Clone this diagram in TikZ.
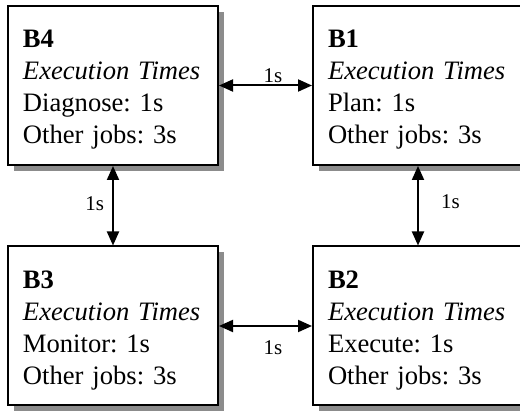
\documentclass[tikz,border=0pt]{standalone}
\usepackage{fontspec}
\setmainfont{Liberation Serif}
\frenchspacing
\usetikzlibrary{arrows.meta,shadows}
\tikzset{blk/.style={draw,line width=1pt,fill=white,rectangle,minimum width=105pt,
minimum height=79.5pt,inner xsep=7.5pt,text width=90pt,align=left,
font=\fontsize{13.3}{16}\selectfont,execute at begin node=\rule{0pt}{13pt},
drop shadow={opacity=1,fill=gray!90,shadow xshift=2.8pt,shadow yshift=-2.8pt}}}

\begin{document}
\begin{tikzpicture}[x=0.5pt,y=-0.5pt,
  lnk/.style={line width=1pt,{Triangle[length=7pt,width=6pt]}-{Triangle[length=7pt,width=6pt]}},
  lbl/.style={font=\fontsize{10.5}{12}\selectfont,inner sep=1pt}]
	\useasboundingbox (0,0) rectangle (520,411);
	\clip (0,0) rectangle (520,411);
	\node[blk] (b4) at (113,85.5) {\textbf{B4}\\\textit{Execution Times}\\Diagnose: 1s\\Other jobs: 3s};
	\node[blk] (b1) at (418,85.5) {\textbf{B1}\\\textit{Execution Times}\\Plan: 1s\\Other jobs: 3s};
	\node[blk] (b3) at (113,326) {\textbf{B3}\\\textit{Execution Times}\\Monitor: 1s\\Other jobs: 3s};
	\node[blk] (b2) at (418,326) {\textbf{B2}\\\textit{Execution Times}\\Execute: 1s\\Other jobs: 3s};

	\draw[lnk] (b4) -- node[lbl,pos=.58,above] {1s} (b1);
	\draw[lnk] (b4) -- node[lbl,pos=.48,left=3pt] {1s} (b3);
	\draw[lnk] (b1) -- node[lbl,pos=.45,right=10pt] {1s} (b2);
	\draw[lnk] (b3) -- node[lbl,pos=.58,below=6pt] {1s} (b2);
\end{tikzpicture}
\end{document}
